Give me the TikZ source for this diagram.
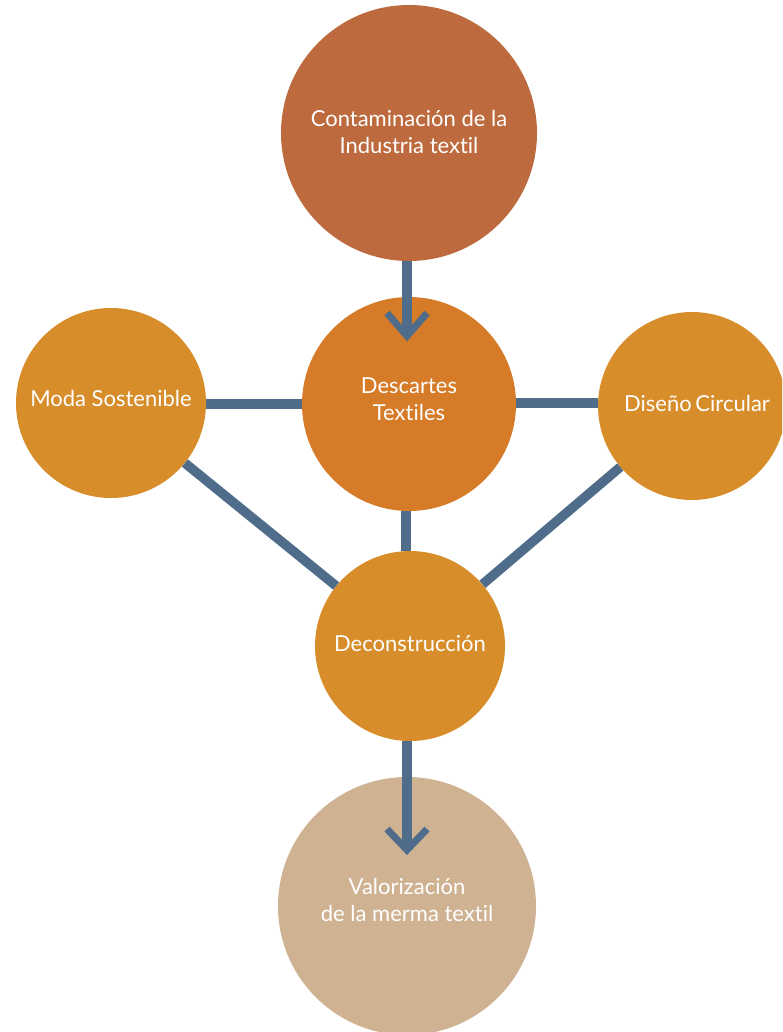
\documentclass[tikz,border=0pt]{standalone}
\usepackage{fontspec}
\setmainfont[Ligatures={NoCommon}]{Lato}
\usetikzlibrary{calc}
\definecolor{rust}{HTML}{BC6A3E}
\definecolor{orangeA}{HTML}{D67B27}
\definecolor{ochre}{HTML}{D68D2A}
\definecolor{sand}{HTML}{CFB291}
\definecolor{steel}{HTML}{4F6D8A}
\tikzset{
  bubble/.style={circle, inner sep=0pt, fill=#1},
  lbl/.style={text=white, align=center, inner sep=0pt, font=\fontsize{22}{26.5}\selectfont},
  conn/.style={draw=steel, line width=9.5pt},
  chev/.style={draw=steel, line width=7pt, line join=miter},
}
\begin{document}
\begin{tikzpicture}[x=1pt,y=-1pt]
\clip (0,0) rectangle (782,1032);
\useasboundingbox (0,0) rectangle (782,1032);
\node[bubble=rust, minimum size=256pt] (top) at (409,133) {};
\node[bubble=orangeA, minimum size=214pt] (desc) at (409,404) {};
\node[bubble=ochre, minimum size=190pt] (moda) at (111,403) {};
\node[bubble=ochre, minimum size=188pt] (dise) at (692,406) {};
\node[bubble=ochre, minimum size=190pt] (deco) at (410,646) {};
\node[bubble=sand, minimum size=258pt] (valo) at (407,906) {};
\node[lbl] (toplbl) at (409,132) {Contaminación de la\\Industria textil};
\node[lbl] (desclbl) at (409,399) {Descartes\\Textiles};
\node[lbl] (modalbl) at (111,398) {Moda Sostenible};
\node[lbl] (diselbl) at (697,403) {Diseño\,Circular};
\node[lbl] (decolbl) at (410,644) {Deconstrucción};
\node[lbl] (valolbl) at (407,900) {Valorización\\de la merma textil};
\draw[conn] (moda.east |- 0,404) -- (desc.west |- 0,404);
\draw[conn] (desc.east |- 0,403) -- (dise.west |- 0,403);
\draw[conn] (desc.south -| 406,0) -- (deco.north -| 406,0);
\draw[conn] (moda) -- (deco);
\draw[conn] (dise) -- (deco);
\coordinate (t1) at (407,336);
\coordinate (t2) at (407,850);
\draw[conn] (top.south -| 407,0) -- (t1);
\draw[chev] ($(t1)+(-20,-23)$) -- (t1) -- ($(t1)+(20,-23)$);
\draw[conn] (deco.south -| 407,0) -- (t2);
\draw[chev] ($(t2)+(-20,-21)$) -- (t2) -- ($(t2)+(20,-21)$);
\end{tikzpicture}
\end{document}
